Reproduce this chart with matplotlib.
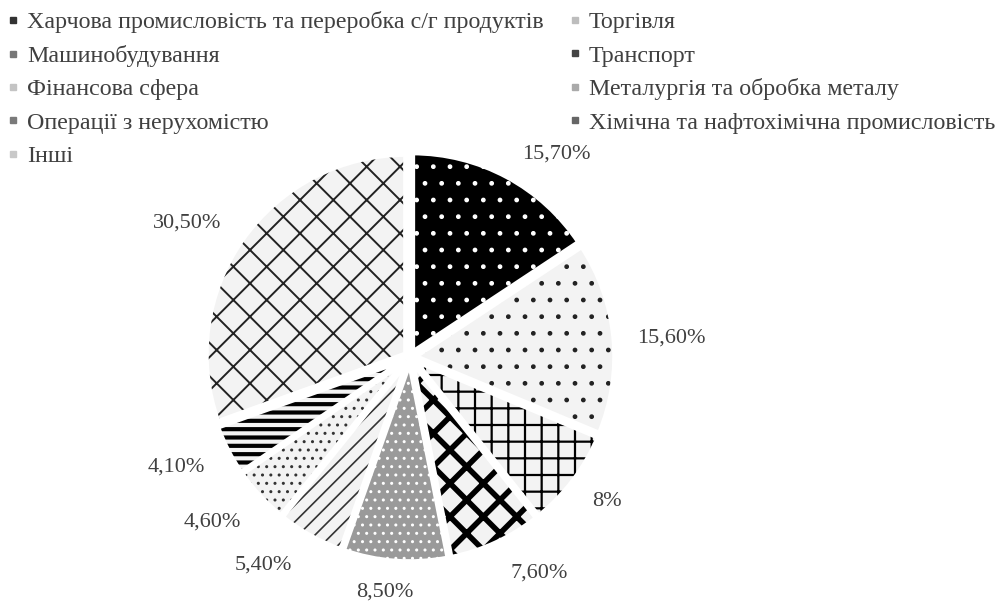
import numpy as np
import matplotlib
matplotlib.use('Agg')
import matplotlib.pyplot as plt
from matplotlib.lines import Line2D

plt.rcParams['font.family'] = ['Liberation Serif', 'DejaVu Serif']

# data
sectors = ["Харчова промисловість та переробка с/г продуктів", "Торгівля",
           "Машинобудування", "Транспорт", "Фінансова сфера",
           "Металургія та обробка металу", "Операції з нерухомістю",
           "Хімічна та нафтохімічна промисловість", "Інші"]
shares = [15.7, 15.6, 8.0, 7.6, 8.5, 5.4, 4.6, 4.1, 30.5]
share_labels = ["15,70%", "15,60%", "8%", "7,60%", "8,50%", "5,40%", "4,60%", "4,10%", "30,50%"]

# styles per slice: face, hatch colour, hatch, hatch linewidth
faces = ["black", "#f3f3f3", "#f3f3f3", "#f3f3f3", "#9a9a9a", "#f3f3f3", "#f3f3f3", "#f3f3f3", "#f3f3f3"]
hcols = ["white", "#222222", "black", "black", "white", "#333333", "#333333", "black", "#222222"]
hatches = [".", ".", "+", "x", "..", "//", "..", "--", "x"]
hlw = [1.0, 1.0, 1.6, 4.0, 1.0, 1.2, 1.0, 3.0, 1.4]
legend_cols = ["#333333", "#bdbdbd", "#777777", "#444444", "#c4c4c4", "#aaaaaa", "#7a7a7a", "#666666", "#c8c8c8"]

# label placement (distance from centre, angle nudge in degrees)
lab_dist = [1.25, 1.31, 1.22, 1.26, 1.18, 1.27, 1.29, 1.29, 1.30]
lab_shift = [-7.6, -1.2, 0.7, 6, -2, -6, -3, -2, 4.2]

fig = plt.figure(figsize=(10.02, 6.03), dpi=100)
R = 200  # px
cx, cy = 410, 603 - 357
half = 1.4 * R
ax = fig.add_axes([(cx - half) / 1002, (cy - half) / 603, 2 * half / 1002, 2 * half / 603])

explode = [0.025] * len(shares)
wedges, _ = ax.pie(shares, startangle=90, counterclock=False, explode=explode,
                   radius=1.0, wedgeprops=dict(linewidth=0))
# white borders between slices
ax.pie(shares, startangle=90, counterclock=False, explode=explode, radius=1.0,
       wedgeprops=dict(facecolor='none', edgecolor='white', linewidth=4, joinstyle='miter'))
ax.set_xlim(-1.4, 1.4)
ax.set_ylim(-1.4, 1.4)
ax.axis('off')
for w, f, hc, h, lw in zip(wedges, faces, hcols, hatches, hlw):
    w.set_facecolor(f)
    w.set_edgecolor(hc)
    w.set_linewidth(0)
    w.set_hatch(h)
    if hasattr(w, 'set_hatch_linewidth'):
        w.set_hatch_linewidth(lw)
    else:
        w._hatch_linewidth = lw

for w, lab, d, s in zip(wedges, share_labels, lab_dist, lab_shift):
    ang = np.deg2rad((w.theta1 + w.theta2) / 2 + s)
    ax.text(d * np.cos(ang), d * np.sin(ang), lab, ha='center', va='center',
            fontsize=16, color='#404040')

# legend, row-wise order in two columns
order = [0, 2, 4, 6, 8, 1, 3, 5, 7]
handles = [Line2D([], [], marker='s', ls='none', markersize=5, color=legend_cols[i]) for i in order]
fig.legend(handles, [sectors[i] for i in order], ncol=2, loc='upper left',
           bbox_to_anchor=(0.004, 0.985), frameon=False, fontsize=17.3, labelcolor='#404040',
           handlelength=0.55, handletextpad=0.3, columnspacing=1.05, labelspacing=0.48,
           borderpad=0.1, borderaxespad=0)

fig.savefig('out.png', dpi=100)
